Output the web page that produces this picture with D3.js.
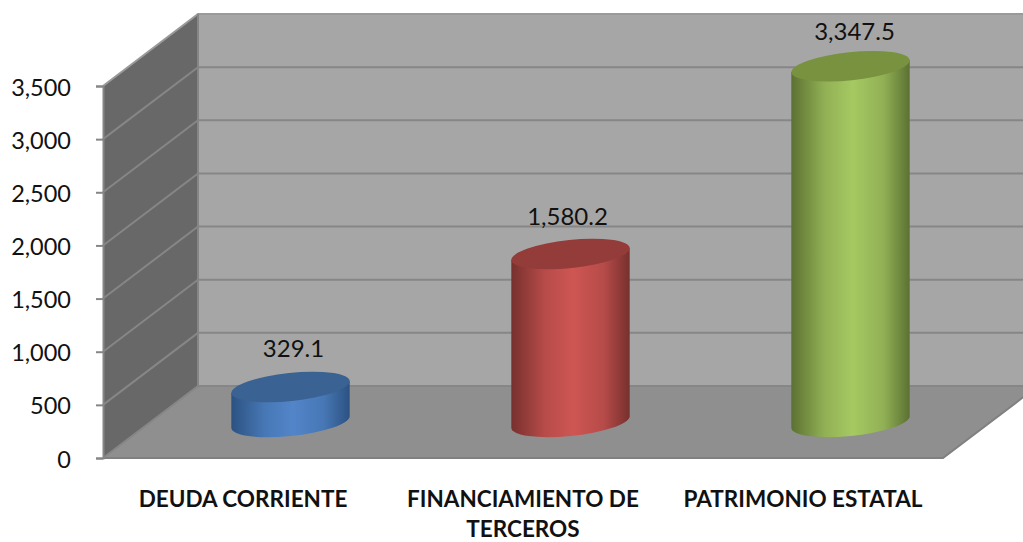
<!DOCTYPE html>
<html>
  <head>
    <title>Deuda y patrimonio</title>
    <script src="https://d3js.org/d3.v7.min.js"></script>
    <style>
      body { margin: 0; background: #fff; }
      svg { display: block; }
      text { font-family: Lato, "Open Sans", sans-serif; fill: #111; }
    </style>
  </head>
  <body>
    <svg width="1023" height="542"></svg>

    <script>
      var categories = ["DEUDA CORRIENTE", "FINANCIAMIENTO DE TERCEROS", "PATRIMONIO ESTATAL"];
      var values = [329.1, 1580.2, 3347.5];
      var valueLabels = ["329.1", "1,580.2", "3,347.5"];
      var yTicks = [0, 500, 1000, 1500, 2000, 2500, 3000, 3500];
      var palettes = [
        { edge: "#2c5282", mid: "#5285c9", top: "#3a6292" },
        { edge: "#77302e", mid: "#ce5653", top: "#943c3a" },
        { edge: "#5c7132", mid: "#a6c962", top: "#78923f" }
      ];

      // oblique depth of the box
      var depthX = 95, depthY = 72;
      var rx = 59.5, ry = 14, tilt = -6;

      var svg = d3.select("svg");

      var y = d3.scaleLinear().domain([0, 3500]).range([458, 86]);
      var x = d3.scaleBand().domain(categories).range([103, 943]);

      // walls and floor
      var y0 = y(0), yTop = y(3500);
      svg.append("polygon")
        .attr("points", [[103 + depthX, yTop - depthY], [1023, yTop - depthY], [1023, y0 - depthY], [103 + depthX, y0 - depthY]].join(" "))
        .style("fill", "#a6a6a6");
      svg.append("polygon")
        .attr("points", [[103, yTop], [103 + depthX, yTop - depthY], [103 + depthX, y0 - depthY], [103, y0]].join(" "))
        .style("fill", "#686868");
      svg.append("polygon")
        .attr("points", [[103, y0], [103 + depthX, y0 - depthY], [943 + depthX, y0 - depthY], [943, y0]].join(" "))
        .style("fill", "#8f8f8f");

      // grid lines on side and back wall
      svg.append("g").selectAll("path")
        .data(yTicks)
        .enter()
        .append("path")
        .attr("d", d => "M103," + y(d) + "L" + (103 + depthX) + "," + (y(d) - depthY) + "L1023," + (y(d) - depthY))
        .style("fill", "none")
        .style("stroke", d => d == 3500 ? "#9a9a9a" : "#868686")
        .style("stroke-width", "2px");

      svg.append("path")
        .attr("d", "M" + (103 + depthX) + "," + (yTop - depthY) + "V" + (y0 - depthY))
        .style("stroke", "#868686")
        .style("stroke-width", "2px");
      svg.append("path")
        .attr("d", "M103," + y0 + "H943L" + (943 + depthX) + "," + (y0 - depthY))
        .style("fill", "none")
        .style("stroke", "#808080")
        .style("stroke-width", "2px");

      // value axis
      var axis = d3.axisLeft(y)
        .tickValues(yTicks)
        .tickFormat(d3.format(","))
        .tickSize(7)
        .tickPadding(25);
      var axisG = svg.append("g")
        .attr("transform", "translate(103,0)")
        .call(axis);
      axisG.select(".domain").style("stroke", "#868686").style("stroke-width", "2px");
      axisG.selectAll("line").style("stroke", "#868686").style("stroke-width", "2px");
      axisG.selectAll("text")
        .attr("y", 1.5)
        .style("font-size", "23.5px")
        .style("fill", "#111");

      // gradients
      var defs = svg.append("defs");
      palettes.forEach((p, i) => {
        var g = defs.append("linearGradient").attr("id", "body" + i);
        g.append("stop").attr("offset", "0%").attr("stop-color", p.edge);
        g.append("stop").attr("offset", "28%").attr("stop-color", d3.interpolateRgb(p.edge, p.mid)(0.72));
        g.append("stop").attr("offset", "52%").attr("stop-color", p.mid);
        g.append("stop").attr("offset", "78%").attr("stop-color", d3.interpolateRgb(p.edge, p.mid)(0.72));
        g.append("stop").attr("offset", "100%").attr("stop-color", p.edge);
      });

      // where the tilted ellipse touches its vertical tangents
      var t = tilt * Math.PI / 180;
      var extX = Math.sqrt(rx * rx * Math.cos(t) * Math.cos(t) + ry * ry * Math.sin(t) * Math.sin(t));
      var extY = (rx * rx - ry * ry) * Math.sin(t) * Math.cos(t) / extX;

      var cx = d => x(d) + x.bandwidth() / 2 + depthX / 2;
      var cyOf = v => y(v) - depthY / 2;

      var bars = svg.append("g").selectAll("g")
        .data(categories)
        .enter()
        .append("g");

      bars.append("path")
        .attr("d", (d, i) => {
          var c = cx(d), top = cyOf(values[i]), base = cyOf(0);
          return "M" + (c - extX) + "," + (top - extY)
            + "V" + (base - extY)
            + "A" + rx + "," + ry + " " + tilt + " 0 0 " + (c + extX) + "," + (base + extY)
            + "V" + (top + extY)
            + "Z";
        })
        .style("fill", (d, i) => "url(#body" + i + ")");

      bars.append("ellipse")
        .attr("rx", rx)
        .attr("ry", ry)
        .attr("transform", (d, i) => "translate(" + cx(d) + "," + cyOf(values[i]) + ") rotate(" + tilt + ")")
        .style("fill", (d, i) => palettes[i].top);

      // data labels, hand nudged off the bar tops
      var nudgeX = [3, -3, 4], nudgeY = [-30, -29, -26];
      bars.append("text")
        .attr("x", (d, i) => cx(d) + nudgeX[i])
        .attr("y", (d, i) => cyOf(values[i]) + nudgeY[i])
        .attr("text-anchor", "middle")
        .style("font-size", "24px")
        .text((d, i) => valueLabels[i]);

      // category labels, wrapped the way the chart wraps them
      var catLines = [["DEUDA CORRIENTE"], ["FINANCIAMIENTO DE", "TERCEROS"], ["PATRIMONIO ESTATAL"]];
      svg.append("g").selectAll("text")
        .data(categories)
        .enter()
        .append("text")
        .attr("text-anchor", "middle")
        .style("font-size", "22.5px")
        .style("font-weight", "700")
        .each(function (d, i) {
          d3.select(this).selectAll("tspan")
            .data(catLines[i])
            .enter()
            .append("tspan")
            .attr("x", x(d) + x.bandwidth() / 2)
            .attr("y", (l, j) => 507 + j * 30)
            .text(l => l);
        });
    </script>
  </body>
</html>
